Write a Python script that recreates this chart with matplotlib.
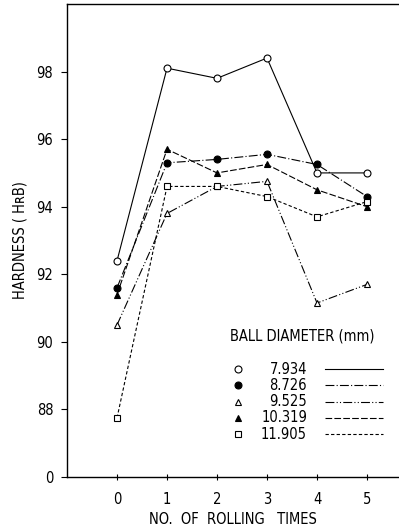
import matplotlib
matplotlib.use("Agg")
import matplotlib.pyplot as plt

plt.rcParams['font.family'] = ['DejaVu Sans']
plt.rcParams['font.stretch'] = 'condensed'

rolling = [0, 1, 2, 3, 4, 5]
diameters = ["7.934", "8.726", "9.525", "10.319", "11.905"]
h_7934 = [92.4, 98.1, 97.8, 98.4, 95.0, 95.0]
h_8726 = [91.6, 95.3, 95.4, 95.55, 95.25, 94.3]
h_9525 = [90.5, 93.8, 94.6, 94.75, 91.15, 91.7]
h_10319 = [91.4, 95.7, 95.0, 95.25, 94.5, 94.0]
h_11905 = [87.75, 94.6, 94.6, 94.3, 93.7, 94.15]
yticks = [86, 88, 90, 92, 94, 96, 98]
ytick_labels = ["0", "88", "90", "92", "94", "96", "98"]

series = [h_7934, h_8726, h_9525, h_10319, h_11905]
markers = ['o', 'o', '^', '^', 's']
fills = ['white', 'black', 'white', 'black', 'white']
styles = ['-', (0, (8, 2, 1, 2)), (0, (8, 2, 1, 2, 1, 2)), (0, (6, 2)), (0, (3, 2))]

fig = plt.figure(figsize=(3.99, 5.32), dpi=100)
ax = fig.add_axes([0.168, 0.1034, 0.832, 0.8891])

for vals, m, fc, ls in zip(series, markers, fills, styles):
    ax.plot(rolling, vals, color='black', lw=0.8, linestyle=ls, marker=m,
            markersize=5, markerfacecolor=fc, markeredgecolor='black', mew=0.8)

ax.set_xlim(-1, 5.64)
ax.set_ylim(86, 100)
ax.set_xticks(rolling)
ax.set_yticks(yticks)
ax.set_yticklabels(ytick_labels)
ax.spines['right'].set_visible(False)
for s in ['left', 'bottom', 'top']:
    ax.spines[s].set_linewidth(1.0)
ax.tick_params(axis='x', direction='inout', length=5, labelsize=10.5, pad=8)
ax.tick_params(axis='y', direction='out', length=4, labelsize=10.5, pad=6)

ax.set_xlabel("NO.  OF  ROLLING   TIMES", fontsize=10.5, labelpad=4)
ax.set_ylabel("HARDNESS ( H\u0280B)", fontsize=10.5, labelpad=6)

# legend drawn by hand: marker, diameter, line sample
ax.text(0.49, 0.298, "BALL DIAMETER (mm)", transform=ax.transAxes,
        fontsize=10.5, va='center', ha='left')
for i, (d, m, fc, ls) in enumerate(zip(diameters, markers, fills, styles)):
    yy = 0.228 - i * 0.0343
    ax.plot([0.515], [yy], transform=ax.transAxes, marker=m, markersize=5,
            markerfacecolor=fc, markeredgecolor='black', mew=0.8, color='black',
            clip_on=False)
    ax.text(0.723, yy, d, transform=ax.transAxes, fontsize=10.5,
            va='center', ha='right')
    ax.plot([0.777, 0.952], [yy, yy], transform=ax.transAxes, color='black',
            lw=0.8, linestyle=ls)

fig.savefig("out.png", dpi=100)
